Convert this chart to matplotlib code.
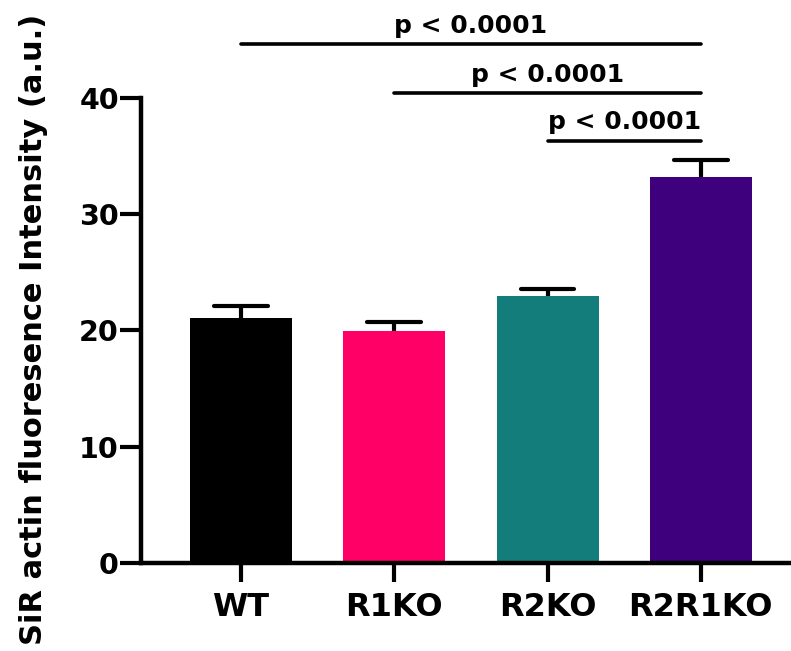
import matplotlib
matplotlib.use('Agg')
import matplotlib.pyplot as plt

# values
groups = ['WT', 'R1KO', 'R2KO', 'R2R1KO']
means = [21.07, 19.93, 22.94, 33.19]
sem = [1.03, 0.75, 0.57, 1.43]
colors = ['#000000', '#FF0066', '#127D7B', '#3F007D']

# significance brackets: (left group, right group, height, label)
brackets = [(0, 3, 44.6, 'p < 0.0001'),
            (1, 3, 40.4, 'p < 0.0001'),
            (2, 3, 36.3, 'p < 0.0001')]

plt.rcParams['font.family'] = 'DejaVu Sans'
plt.rcParams['font.weight'] = 'bold'

fig = plt.figure(figsize=(7.91, 6.51), dpi=100)
ax = fig.add_axes([0.1783, 0.1352, 0.8217, 0.715])

x = list(range(len(groups)))
ax.bar(x, means, width=0.665, color=colors, edgecolor='none', zorder=2)

# upper error bars only, Prism style
tops = [m + s for m, s in zip(means, sem)]
ax.vlines(x, means, tops, color='black', lw=3, zorder=3)
ax.hlines(tops, [i - 0.175 for i in x], [i + 0.175 for i in x],
          color='black', lw=3, capstyle='round', zorder=3)

ax.set_xlim(-0.652, 3.588)
ax.set_ylim(0, 40)
ax.set_yticks([0, 10, 20, 30, 40])
ax.set_xticks(x)
ax.set_xticklabels(groups, fontsize=23, fontweight='bold')
for lab in ax.get_yticklabels():
    lab.set_fontsize(20.5)
    lab.set_fontweight('bold')

for side in ['top', 'right']:
    ax.spines[side].set_visible(False)
for side in ['left', 'bottom']:
    ax.spines[side].set_linewidth(3.2)
ax.tick_params(axis='y', length=15, width=3, pad=1)
ax.tick_params(axis='x', length=14, width=3, pad=7)

fig.text(33.5 / 791, 0.4946, 'SiR actin fluoresence Intensity (a.u.)',
         rotation=90, ha='center', va='center', fontsize=22, fontweight='bold')

for i0, i1, h, txt in brackets:
    ax.plot([x[i0], x[i1]], [h, h], color='black', lw=2.6,
            solid_capstyle='round', clip_on=False)
    ax.annotate(txt, ((x[i0] + x[i1]) / 2, h), xytext=(0, 8),
                textcoords='offset points', ha='center', va='baseline',
                fontsize=18, fontweight='bold', annotation_clip=False)

fig.savefig('out.png', dpi=100)
